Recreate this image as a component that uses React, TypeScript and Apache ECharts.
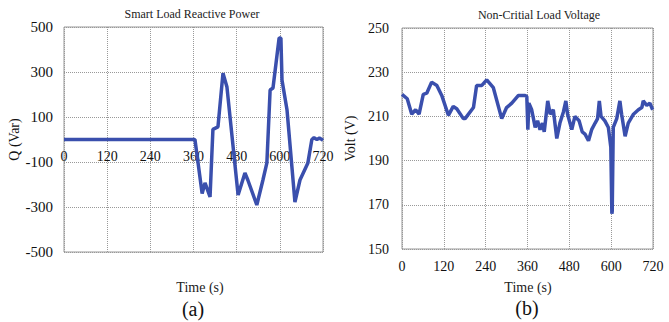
import React, { useEffect, useRef } from "react";
import * as echarts from "echarts";

// (a) Smart load reactive power
const reactiveTime = [0, 360, 364, 384, 392, 406, 414, 428, 442, 453, 484, 503, 511, 536, 553, 564, 573, 581, 598, 603, 606, 620, 642, 656, 678, 689, 695, 703, 710, 717, 720];
const reactiveQ = [0, 0, 0, -240, -193, -255, 45, 56, 295, 233, -247, -149, -180, -291, -180, -104, 220, 229, 451, 451, 264, 131, -278, -180, -104, 0, 8, 0, 6, 0, -4];

// (b) Non-critical load voltage
const voltTime = [0, 15, 28, 39, 49, 61, 71, 85, 100, 114, 133, 147, 157, 176, 181, 205, 214, 229, 243, 262, 286, 300, 315, 334, 353, 358, 361, 364, 372, 382, 389, 396, 403, 408, 418, 425, 434, 444, 453, 463, 470, 475, 487, 496, 508, 517, 525, 535, 544, 554, 561, 566, 571, 582, 592, 599, 602, 603, 606, 616, 625, 630, 640, 649, 664, 678, 688, 692, 702, 711, 719];
const voltV = [220, 218, 211, 213, 211, 220, 220.5, 225.5, 224, 219.5, 210.5, 214.5, 213.5, 209, 209, 214, 224, 224, 226.5, 223, 209, 214, 216, 219.5, 219.5, 219, 204, 216, 213, 205, 208, 204, 207, 203, 217, 211, 213, 200, 207, 212, 217, 211, 204, 210, 208, 203, 202, 199, 204, 207, 209, 217, 210, 208, 205, 196, 166, 167, 205, 209, 217, 211, 201, 207, 211, 213, 214, 217, 215, 216, 213];

const xTicks = { min: 0, max: 720, interval: 120 };
const qTicks = { min: -500, max: 500, interval: 200 };
const vTicks = { min: 150, max: 250, interval: 20 };

const FONT = "'Liberation Serif', 'DejaVu Serif', serif";
const LINE = "#3a4fad";
const GRIDC = "#999";

const LEFT_GRID = { left: 64, top: 27, width: 259, height: 225 };
const RIGHT_GRID = { left: 402, top: 28, width: 251, height: 221 };

export default function App() {
  const ref = useRef<HTMLDivElement>(null);
  useEffect(() => {
    if (!ref.current) return;
    const chart = echarts.init(ref.current, undefined, { renderer: "svg" });
    const split = { show: true, lineStyle: { color: GRIDC, type: "dotted", width: 1 } };
    const hiddenLine = { show: true, lineStyle: { color: "rgba(0,0,0,0)" } };
    // place the time labels of (a) along the Q = 0 line
    const zeroOffset = -LEFT_GRID.height * (0 - qTicks.min) / (qTicks.max - qTicks.min);
    chart.setOption({
      animation: false,
      backgroundColor: "#fff",
      grid: [
        { ...LEFT_GRID, show: true, borderColor: GRIDC, borderWidth: 1 },
        { ...RIGHT_GRID, show: true, borderColor: GRIDC, borderWidth: 1 },
      ],
      xAxis: [
        {
          gridIndex: 0, type: "value", ...xTicks,
          position: "bottom", offset: zeroOffset,
          axisLine: { ...hiddenLine, onZero: false },
          axisTick: { show: false },
          axisLabel: { margin: 10, fontSize: 14, fontFamily: FONT, color: "#111" },
          splitLine: split,
        },
        {
          gridIndex: 1, type: "value", ...xTicks,
          axisLine: { ...hiddenLine, onZero: false },
          axisTick: { show: false },
          axisLabel: { margin: 10, fontSize: 14, fontFamily: FONT, color: "#111" },
          splitLine: split,
        },
      ],
      yAxis: [
        {
          gridIndex: 0, type: "value", ...qTicks,
          name: "Q (Var)", nameLocation: "middle", nameGap: 33,
          nameTextStyle: { fontSize: 14, fontFamily: FONT, color: "#111" },
          axisLine: { ...hiddenLine, onZero: false },
          axisTick: { show: false },
          axisLabel: { margin: 11, fontSize: 15, fontFamily: FONT, color: "#111" },
          splitLine: split,
        },
        {
          gridIndex: 1, type: "value", ...vTicks,
          name: "Volt (V)", nameLocation: "middle", nameGap: 45,
          nameTextStyle: { fontSize: 14, fontFamily: FONT, color: "#111" },
          axisLine: { ...hiddenLine, onZero: false },
          axisTick: { show: false },
          axisLabel: { margin: 13, fontSize: 14, fontFamily: FONT, color: "#111" },
          splitLine: split,
        },
      ],
      series: [
        {
          type: "line", xAxisIndex: 0, yAxisIndex: 0,
          data: reactiveTime.map((t, i) => [t, reactiveQ[i]]),
          showSymbol: false, symbol: "none",
          lineStyle: { color: LINE, width: 3.5 },
        },
        {
          type: "line", xAxisIndex: 1, yAxisIndex: 1,
          data: voltTime.map((t, i) => [t, voltV[i]]),
          showSymbol: false, symbol: "none",
          lineStyle: { color: LINE, width: 3.5 },
        },
      ],
      graphic: [
        { type: "text", x: 192, y: 14, style: { text: "Smart Load Reactive Power", fontSize: 12, fontFamily: FONT, fill: "#222", align: "center", verticalAlign: "middle" } },
        { type: "text", x: 539, y: 15, style: { text: "Non-Critial Load Voltage", fontSize: 12, fontFamily: FONT, fill: "#222", align: "center", verticalAlign: "middle" } },
        { type: "text", x: 200, y: 287, style: { text: "Time (s)", fontSize: 14, fontFamily: FONT, fill: "#222", align: "center", verticalAlign: "middle" } },
        { type: "text", x: 528, y: 287, style: { text: "Time (s)", fontSize: 14, fontFamily: FONT, fill: "#222", align: "center", verticalAlign: "middle" } },
        { type: "text", x: 193, y: 309, style: { text: "(a)", fontSize: 20, fontFamily: FONT, fill: "#111", align: "center", verticalAlign: "middle" } },
        { type: "text", x: 527, y: 308, style: { text: "(b)", fontSize: 20, fontFamily: FONT, fill: "#111", align: "center", verticalAlign: "middle" } },
      ],
    });
    return () => chart.dispose();
  }, []);
  return (
    <div
      ref={ref}
      style={{ position: "fixed", left: 0, top: 0, width: 669, height: 322, background: "#fff" }}
    />
  );
}
